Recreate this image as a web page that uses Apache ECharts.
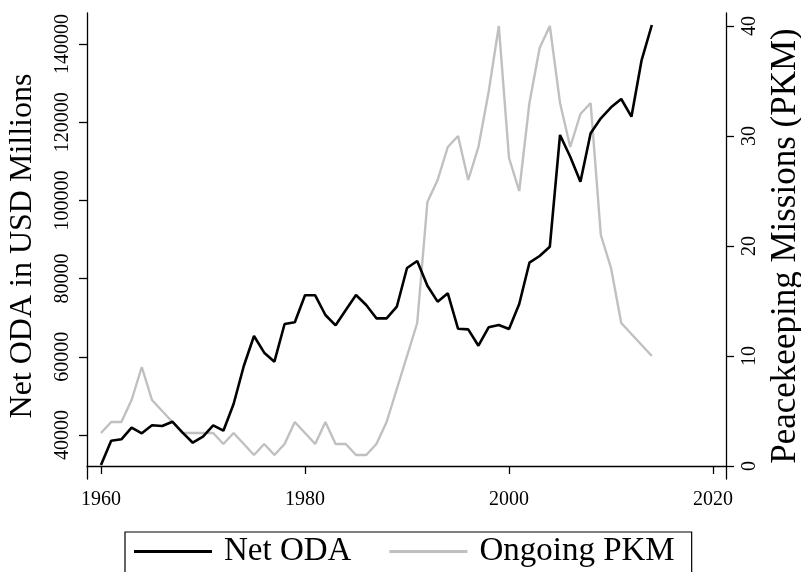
<!DOCTYPE html>
<html>
<head>
<meta charset="utf-8">
<script src="https://cdn.jsdelivr.net/npm/echarts@6/dist/echarts.min.js"></script>
<style>
  html, body { margin: 0; padding: 0; background: #fff; }
  #chart { width: 801px; height: 572px; }
</style>
</head>
<body>
<div id="chart"></div>
<script>
const years = [];
for (let y = 1960; y <= 2014; y++) years.push(y);

const netODA = [32300, 38550, 38900, 41870, 40430, 42480, 42300, 43400, 40600, 38030,
  39570, 42480, 41100, 47930, 57650, 65320, 61050, 58750, 68390, 68820,
  75730, 75730, 70690, 68050, 71970, 75800, 73250, 69840, 69840, 72810,
  82710, 84500, 78190, 74100, 76240, 67190, 67020, 62840, 67540, 68130,
  67110, 73500, 84070, 85780, 88160, 116730, 111180, 104790, 117150, 120990,
  123810, 125930, 121410, 135900, 144860];

const pkm = [3, 4, 4, 6, 9, 6, 5, 4, 3, 3,
  3, 3, 2, 3, 2, 1, 2, 1, 2, 4,
  3, 2, 4, 2, 2, 1, 1, 2, 4, 7,
  10, 13, 24, 26, 29, 30, 26, 29, 34, 40,
  28, 25, 33, 38, 40, 33, 29, 32, 33, 21,
  18, 13, 12, 11, 10];

const xTicks = [1960, 1980, 2000, 2020];
const leftTicks = [40000, 60000, 80000, 100000, 120000, 140000];
const rightTicks = [0, 10, 20, 30, 40];

const FONT = '"Liberation Serif", "DejaVu Serif", serif';
const axisLineStyle = { color: '#000', width: 1.3 };

const chart = echarts.init(document.getElementById('chart'), null, { renderer: 'canvas' });
chart.setOption({
  animation: false,
  backgroundColor: '#fff',
  grid: { left: 87, right: 75, top: 13, bottom: 93, containLabel: false, outerBoundsMode: 'none' },
  legend: {
    left: 125,
    top: 532,
    orient: 'horizontal',
    borderColor: '#000',
    borderWidth: 1.2,
    padding: [3, 17, 12, 9],
    icon: 'rect',
    itemWidth: 78,
    itemHeight: 3,
    itemGap: 38,
    textStyle: { fontFamily: FONT, fontSize: 33, color: '#000', padding: [0, 0, 0, 7] },
    data: ['Net ODA', 'Ongoing PKM']
  },
  xAxis: {
    type: 'value',
    min: 1958.63,
    max: 2021.27,
    splitLine: { show: false },
    axisLine: { show: true, lineStyle: axisLineStyle },
    axisTick: { show: true, length: 8, lineStyle: axisLineStyle, customValues: xTicks },
    axisLabel: {
      customValues: xTicks,
      formatter: v => String(v),
      fontFamily: FONT, fontSize: 20, color: '#000', margin: 11
    }
  },
  yAxis: [
    {
      type: 'value',
      position: 'left',
      min: 28747,
      max: 147929,
      name: 'Net ODA in USD Millions',
      nameLocation: 'middle',
      nameRotate: 90,
      nameGap: 48,
      nameTextStyle: { fontFamily: FONT, fontSize: 32, color: '#000' },
      splitLine: { show: false },
      axisLine: { show: true, lineStyle: axisLineStyle },
      axisTick: { show: true, length: 8, lineStyle: axisLineStyle, customValues: leftTicks },
      axisLabel: {
        customValues: leftTicks,
        rotate: 90,
        formatter: v => String(v),
        fontFamily: FONT, fontSize: 20, color: '#000', margin: 14
      }
    },
    {
      type: 'value',
      position: 'right',
      min: -1.18,
      max: 41.18,
      name: 'Peacekeeping Missions (PKM)',
      nameLocation: 'middle',
      nameRotate: 90,
      nameGap: 37,
      nameTextStyle: { fontFamily: FONT, fontSize: 35, color: '#000' },
      splitLine: { show: false },
      axisLine: { show: true, lineStyle: axisLineStyle },
      axisTick: { show: true, length: 8, lineStyle: axisLineStyle, customValues: rightTicks },
      axisLabel: {
        customValues: rightTicks,
        rotate: 90,
        formatter: v => String(v),
        fontFamily: FONT, fontSize: 20, color: '#000', margin: 14
      }
    }
  ],
  series: [
    {
      name: 'Net ODA',
      type: 'line',
      yAxisIndex: 0,
      symbol: 'none',
      data: years.map((y, i) => [y, netODA[i]]),
      lineStyle: { color: '#000', width: 2.6 },
      itemStyle: { color: '#000' },
      z: 3
    },
    {
      name: 'Ongoing PKM',
      type: 'line',
      yAxisIndex: 1,
      symbol: 'none',
      data: years.map((y, i) => [y, pkm[i]]),
      lineStyle: { color: '#c0c0c0', width: 2.4 },
      itemStyle: { color: '#c0c0c0' },
      z: 2
    }
  ]
});
</script>
</body>
</html>
